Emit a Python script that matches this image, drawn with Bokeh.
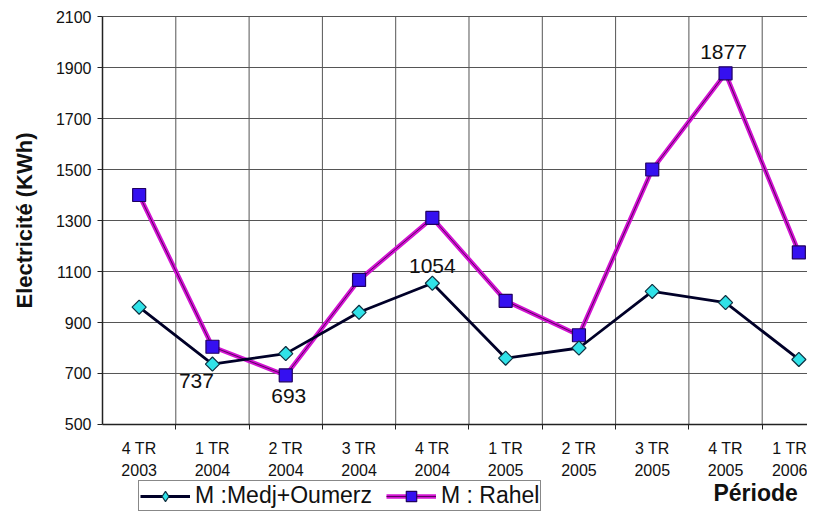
import math
from bokeh.plotting import figure
from bokeh.models import (Range1d, FixedTicker, Legend, LegendItem, Label, ColumnDataSource,
                          LinearAxis)
from bokeh.core.properties import value
from bokeh.embed import file_html
from bokeh.resources import INLINE

# ---- data ----
periods = ["4 TR\n2003", "1 TR\n2004", "2 TR\n2004", "3 TR\n2004", "4 TR\n2004",
           "1 TR\n2005", "2 TR\n2005", "3 TR\n2005", "4 TR\n2005", "1 TR\n2006"]
medj = [960, 737, 778, 940, 1054, 760, 800, 1022, 978, 755]
rahel = [1400, 805, 693, 1067, 1310, 985, 850, 1500, 1877, 1175]
y_ticks = [500, 700, 900, 1100, 1300, 1500, 1700, 1900, 2100]
series_names = ["M :Medj+Oumerz", "M : Rahel"]
y_title = "Electricité (KWh)"
x_title = "Période"
# annotated points: (series, index)
annotated = [("medj", 1), ("rahel", 2), ("medj", 4), ("rahel", 8)]

FONT = "Liberation Sans"
INK = "#111111"
AXC = "#222222"
GRIDC = "#555555"
CYAN = "#30E2E8"
xs = list(range(len(periods)))
boundaries = [i + 0.5 for i in range(len(periods) - 1)]
y_lo, y_hi = y_ticks[0], y_ticks[-1]
x_lo = -0.5

# layout: the frame covers the whole canvas; axes are pinned at fixed data locations
X_START, X_END = -1.8915, 9.118
Y_START, Y_END = 154.9, 2162.75

p = figure(width=807, height=512, output_backend="svg", toolbar_location=None,
           x_range=Range1d(X_START, X_END), y_range=Range1d(Y_START, Y_END),
           x_axis_location=None, y_axis_location=None,
           min_border_left=0, min_border_right=0, min_border_top=0, min_border_bottom=0)
p.outline_line_color = None
p.background_fill_color = "white"
p.border_fill_color = "white"
p.xgrid.visible = False
p.ygrid.visible = False

# grid lines (bounded to the plot area)
p.segment(x0=boundaries, y0=[y_lo] * len(boundaries), x1=boundaries, y1=[y_hi] * len(boundaries),
          line_color=GRIDC, line_width=1)
p.segment(x0=[x_lo] * (len(y_ticks) - 1), y0=y_ticks[1:], x1=[X_END] * (len(y_ticks) - 1), y1=y_ticks[1:],
          line_color=GRIDC, line_width=1)

# x axis at y = 500
xaxis = LinearAxis(fixed_location=y_lo, bounds=(x_lo, X_END),
                   ticker=FixedTicker(ticks=xs, minor_ticks=boundaries))
xaxis.major_label_overrides = {i: lab for i, lab in enumerate(periods)}
xaxis.major_tick_out = 0
xaxis.major_tick_in = 0
xaxis.minor_tick_out = 5
xaxis.minor_tick_in = 0
xaxis.minor_tick_line_color = AXC
xaxis.major_label_standoff = 11
xaxis.major_label_text_font = FONT
xaxis.major_label_text_font_size = "16px"
xaxis.major_label_text_color = INK
xaxis.major_label_text_line_height = 1.25
xaxis.axis_line_color = AXC
xaxis.axis_line_width = 1.5
p.add_layout(xaxis, "below")

# y axis at x = -0.5
yaxis = LinearAxis(fixed_location=x_lo, bounds=(y_lo, y_hi),
                   ticker=FixedTicker(ticks=y_ticks, minor_ticks=[]))
yaxis.major_tick_out = 5
yaxis.major_tick_in = 0
yaxis.major_tick_line_color = AXC
yaxis.major_label_standoff = 6
yaxis.major_label_text_font = FONT
yaxis.major_label_text_font_size = "16px"
yaxis.major_label_text_color = INK
yaxis.axis_line_color = AXC
yaxis.axis_line_width = 1.5
p.add_layout(yaxis, "left")

# series
src = ColumnDataSource(dict(x=xs, medj=medj, rahel=rahel))
r_line_a = p.line("x", "rahel", source=src, line_color="#D214D2", line_width=4.5)
r_line_b = p.line("x", "rahel", source=src, line_color="#5A0060", line_width=1)
r_mark = p.scatter("x", "rahel", source=src, marker="square", size=13,
                   fill_color="#3510F0", line_color="#200060", line_width=1.2)
m_line = p.line("x", "medj", source=src, line_color="#000028", line_width=2.8)
# diamond used for the legend entry (legend glyphs ignore marker angle); hidden under the markers below
m_leg = p.scatter("x", "medj", source=src, marker="diamond", size=13,
                  fill_color=CYAN, line_color="#103040", line_width=1.2)
m_mark = p.scatter("x", "medj", source=src, marker="square", angle=math.pi / 4, size=10,
                   fill_color=CYAN, line_color="#103040", line_width=1.2)

# data labels
lookup = {"medj": medj, "rahel": rahel}
offsets = {("medj", 1): (-16, 17), ("rahel", 2): (3, 21), ("medj", 4): (0, -17), ("rahel", 8): (-2, -21)}
lab_src = ColumnDataSource(dict(
    x=[i for s, i in annotated],
    y=[lookup[s][i] for s, i in annotated],
    t=[str(lookup[s][i]) for s, i in annotated],
    dx=[offsets[(s, i)][0] for s, i in annotated],
    dy=[offsets[(s, i)][1] for s, i in annotated],
))
p.text("x", "y", text="t", source=lab_src, x_offset="dx", y_offset="dy",
       text_align="center", text_baseline="middle", text_font=value(FONT),
       text_font_size="21px", text_color=INK)

# axis titles
p.add_layout(Label(x=24, x_units="screen", y=(y_lo + y_hi) / 2, text=y_title, angle=math.pi / 2,
                   text_align="center", text_baseline="middle",
                   text_font=FONT, text_font_style="bold", text_font_size="22px", text_color=INK))
p.add_layout(Label(x=8.41, y=233, text=x_title, text_align="center", text_baseline="middle",
                   text_font=FONT, text_font_style="bold", text_font_size="23px", text_color=INK))

legend = Legend(items=[LegendItem(label=series_names[0], renderers=[m_line, m_leg]),
                       LegendItem(label=series_names[1], renderers=[r_line_a, r_line_b, r_mark])],
                orientation="horizontal", location=(138, 1),
                label_text_font=FONT, label_text_font_size="23px", label_text_color=INK,
                glyph_width=50, glyph_height=26, label_height=26, label_standoff=5,
                spacing=14, padding=1, margin=0,
                border_line_color=INK, border_line_width=1.5,
                background_fill_color="white", background_fill_alpha=1.0)
p.add_layout(legend, "center")

open("out.html", "w").write(file_html(p, INLINE))
